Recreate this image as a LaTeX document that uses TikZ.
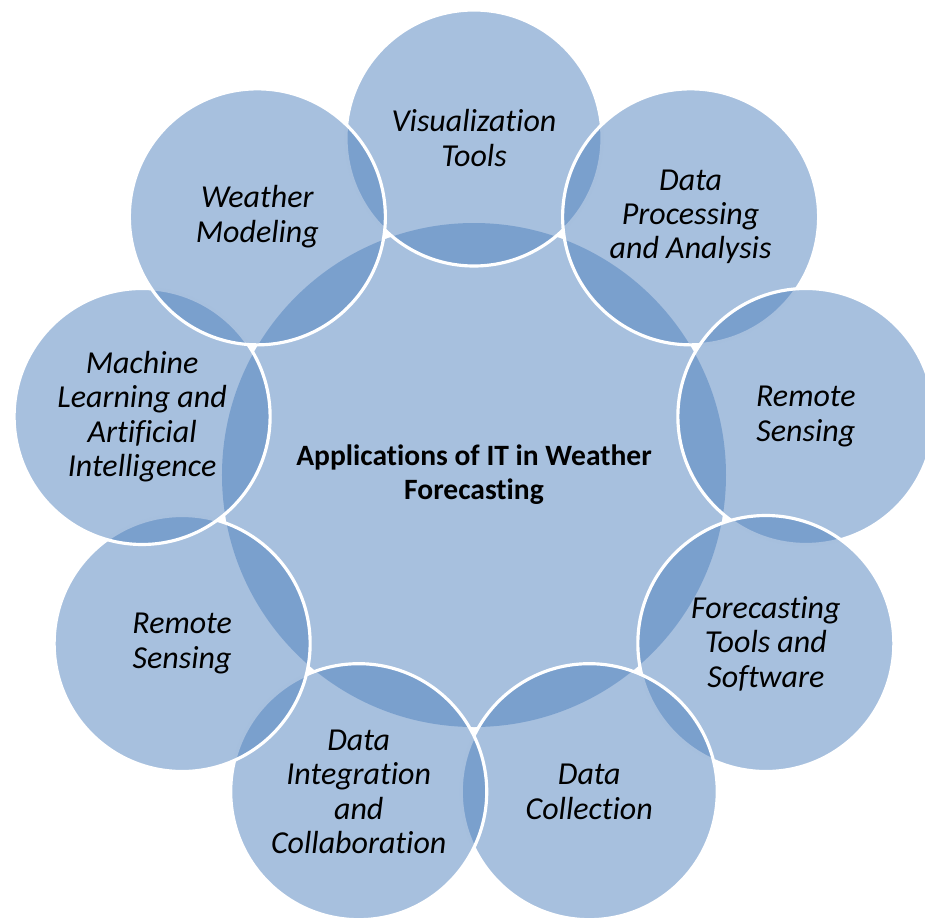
\documentclass[tikz,border=0pt]{standalone}
\usepackage{fontspec}
\setmainfont{Carlito}[Ligatures=CommonOff]
\definecolor{vennBlue}{RGB}{79,129,189}
\tikzset{
  hub/.style   = {circle, fill=vennBlue, fill opacity=0.5, text opacity=1,
                  minimum size=10.08cm, inner sep=0pt, align=center,
                  font=\bfseries\fontsize{16.8}{19.5}\selectfont},
  petal/.style = {circle, fill=vennBlue, fill opacity=0.5, text opacity=1,
                  draw=white, line width=1.8pt, minimum size=5.12cm,
                  inner sep=0pt, align=center,
                  font=\itshape\fontsize{18.2}{19.6}\selectfont}
}

\begin{document}
\begin{tikzpicture}

\clip (-9.48,-8.96) rectangle (9.02,9.5);

% --- CENTRE ---
\node[hub] (hub) at (0,0) {Applications of IT in Weather\\Forecasting};

% --- OUTER CIRCLES (drawn clockwise from the top) ---
\node[petal] (vis)  at (90:6.74)   {Visualization\\Tools};
\node[petal] (proc) at (50:6.74)   {Data\\Processing\\and Analysis};
\node[petal] (rsr)  at (10:6.74)   {Remote\\Sensing};
\node[petal] (fcst) at (-30:6.74)  {Forecasting\\Tools and\\Software};
\node[petal] (coll) at (-70:6.74)  {Data\\Collection};
\node[petal] (intg) at (-110:6.74) {Data\\Integration\\and\\Collaboration};
\node[petal] (rsl)  at (-150:6.74) {Remote\\Sensing};
\node[petal] (mlai) at (170:6.74)  {Machine\\Learning and\\Artificial\\Intelligence};
\node[petal] (wmod) at (130:6.74)  {Weather\\Modeling};

\end{tikzpicture}
\end{document}
